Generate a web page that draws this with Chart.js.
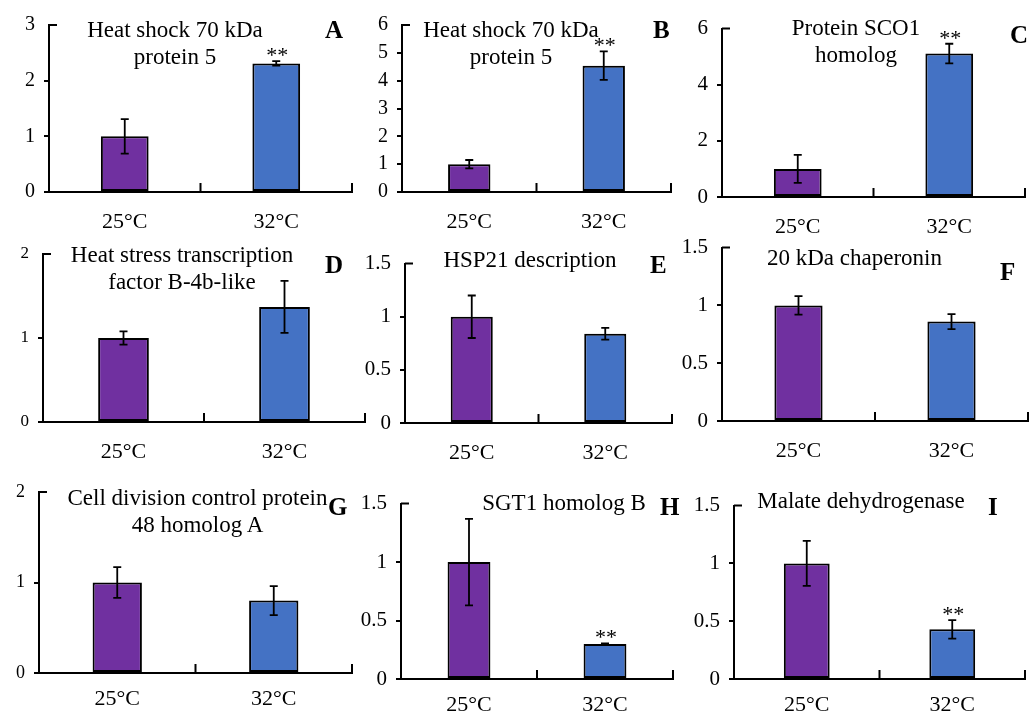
<!DOCTYPE html>
<html lang="en">
<head>
<meta charset="UTF-8">
<title>Relative expression at 25°C and 32°C</title>
<script src="https://cdn.jsdelivr.net/npm/chart.js@4.4.1/dist/chart.umd.min.js"></script>
<style>
  html, body { margin: 0; padding: 0; background: #fff; overflow: hidden; }
  body { width: 1032px; height: 717px; position: relative; font-family: "Liberation Serif", "Times New Roman", serif; color: #000; }
  canvas { position: absolute; }
  .title { position: absolute; width: 400px; text-align: center; font-size: 23px; line-height: 27px; white-space: nowrap; }
  .letter { position: absolute; font-size: 25px; line-height: 25px; font-weight: bold; }
</style>
</head>
<body>
<script>
// data
const panels = ['A', 'B', 'C', 'D', 'E', 'F', 'G', 'H', 'I'];
const categories = ['25°C', '32°C'];
const titles = [
    ['Heat shock 70 kDa', 'protein 5'],
    ['Heat shock 70 kDa', 'protein 5'],
    ['Protein SCO1', 'homolog'],
    ['Heat stress transcription', 'factor B-4b-like'],
    ['HSP21 description'],
    ['20 kDa chaperonin'],
    ['Cell division control protein', '48 homolog A'],
    ['SGT1 homolog B'],
    ['Malate dehydrogenase']
];
const mean25 = [1.0, 1.0, 1.0, 1.0, 1.0, 1.0, 1.0, 1.0, 1.0];
const mean32 = [2.31, 4.54, 5.11, 1.37, 0.84, 0.86, 0.80, 0.30, 0.43];
const err25 = [0.31, 0.15, 0.50, 0.08, 0.20, 0.08, 0.17, 0.37, 0.195];
const err32 = [0.04, 0.51, 0.35, 0.31, 0.055, 0.065, 0.16, 0.005, 0.08];
const sig32 = ['**', '**', '**', '', '', '', '', '**', '**'];
const yTicks = [
    [0, 1, 2, 3],
    [0, 1, 2, 3, 4, 5, 6],
    [0, 2, 4, 6],
    [0, 1, 2],
    [0, 0.5, 1, 1.5],
    [0, 0.5, 1, 1.5],
    [0, 1, 2],
    [0, 0.5, 1, 1.5],
    [0, 0.5, 1, 1.5]
];

// layout (page px): plot area [left, top, right, bottom]
const plotBox = [
    [49, 24, 352, 192], [402, 24, 671, 192], [722, 27, 1025, 197],
    [43, 254, 365, 422], [405, 262, 672, 423], [722, 246, 1028, 421],
    [39, 492, 352, 673], [401, 502, 673, 679], [734, 504, 1025, 679]
];
const titlePos = [
    [175, 37], [511, 37], [856, 34.5],
    [182, 262], [530, 267], [854.5, 265],
    [197.5, 505], [564, 510], [861, 508]
];
const letterPos = [
    [325, 38], [653, 38], [1010, 43],
    [325, 273], [650, 273], [1000, 280],
    [328, 515], [660, 515], [988, 515]
];
const yTickSize = [20, 20, 21, 17, 21, 21, 18, 21, 21];
const xLabelPad = [17, 17, 17, 17, 17, 17, 13, 13, 13];

const Y_W = 45, PAD_T = 20, PAD_R = 14, X_H = 50;
const LINE = 2;
const PURPLE = '#7030A0', BLUE = '#4472C4';

Chart.defaults.font.family = '"Liberation Serif", "Times New Roman", serif';
Chart.defaults.color = '#000';

// error bars, significance stars, category ticks on the x axis
const panelMarks = {
    id: 'panelMarks',
    afterDraw(chart) {
        const { ctx, chartArea: a, scales: { x, y } } = chart;
        const ds = chart.data.datasets[0];
        const meta = chart.getDatasetMeta(0);
        ctx.save();
        ctx.strokeStyle = '#000';
        ctx.lineWidth = LINE;
        ctx.beginPath();
        [0.5, 1.5].forEach(v => {
            const px = x.getPixelForValue(v);
            ctx.moveTo(px, a.bottom);
            ctx.lineTo(px, a.bottom - 9);
        });
        const yt = y.getPixelForValue(y.max);
        ctx.moveTo(a.left, yt);
        ctx.lineTo(a.left + 8, yt);
        ctx.stroke();

        ctx.font = '22px "Liberation Serif", serif';
        ctx.fillStyle = '#000';
        ctx.textAlign = 'center';
        ctx.textBaseline = 'alphabetic';
        ctx.lineWidth = 1.8;
        meta.data.forEach((bar, j) => {
            const v = ds.data[j], e = ds.errors[j];
            const top = y.getPixelForValue(v + e);
            const bot = y.getPixelForValue(v - e);
            ctx.beginPath();
            ctx.moveTo(bar.x, top); ctx.lineTo(bar.x, bot);
            ctx.moveTo(bar.x - 4, top); ctx.lineTo(bar.x + 4, top);
            ctx.moveTo(bar.x - 4, bot); ctx.lineTo(bar.x + 4, bot);
            ctx.stroke();
            if (ds.marks[j]) ctx.fillText(ds.marks[j], bar.x + 1, top + 1);
        });
        ctx.restore();
    }
};

panels.forEach((id, i) => {
    const [L, T, R, B] = plotBox[i];
    const w = R - L + Y_W + PAD_R;
    const h = B - T + PAD_T + X_H;
    const c = document.createElement('canvas');
    c.width = w; c.height = h;
    c.style.left = (L - Y_W) + 'px';
    c.style.top = (T - PAD_T) + 'px';
    c.style.width = w + 'px';
    c.style.height = h + 'px';
    document.body.appendChild(c);

    const ticks = yTicks[i];
    new Chart(c, {
        type: 'bar',
        data: {
            labels: categories,
            datasets: [{
                data: [mean25[i], mean32[i]],
                errors: [err25[i], err32[i]],
                marks: ['', sig32[i]],
                backgroundColor: [PURPLE, BLUE],
                borderColor: '#000',
                borderWidth: LINE,
                borderSkipped: false,
                barPercentage: 0.315,
                categoryPercentage: 1
            }]
        },
        options: {
            responsive: false,
            animation: false,
            devicePixelRatio: 1,
            layout: { padding: { top: PAD_T, right: PAD_R, left: 0, bottom: 0 } },
            plugins: { legend: { display: false }, tooltip: { enabled: false } },
            scales: {
                x: {
                    grid: { display: true, drawOnChartArea: false, drawTicks: false },
                    border: { color: '#000', width: LINE },
                    ticks: { color: '#000', font: { size: 22 }, padding: xLabelPad[i] },
                    afterFit: s => { s.height = X_H; }
                },
                y: {
                    min: 0,
                    max: ticks[ticks.length - 1],
                    afterBuildTicks: s => { s.ticks = ticks.map(v => ({ value: v })); },
                    ticks: { color: '#000', font: { size: yTickSize[i] }, padding: 9, callback: v => String(v) },
                    grid: {
                        drawOnChartArea: false,
                        tickLength: 5,
                        lineWidth: LINE,
                        color: ctx => (ctx.tick && ctx.tick.value === ticks[ticks.length - 1]) ? 'rgba(0,0,0,0)' : '#000'
                    },
                    border: { color: '#000', width: LINE },
                    afterFit: s => { s.width = Y_W; }
                }
            }
        },
        plugins: [panelMarks]
    });
});

titles.forEach((lines, i) => {
    const d = document.createElement('div');
    d.className = 'title';
    d.style.left = (titlePos[i][0] - 200) + 'px';
    d.style.top = (titlePos[i][1] - 21) + 'px';
    d.innerHTML = lines.join('<br>');
    document.body.appendChild(d);
});

panels.forEach((id, i) => {
    const d = document.createElement('div');
    d.className = 'letter';
    d.style.left = letterPos[i][0] + 'px';
    d.style.top = (letterPos[i][1] - 21) + 'px';
    d.textContent = id;
    document.body.appendChild(d);
});
</script>
</body>
</html>
